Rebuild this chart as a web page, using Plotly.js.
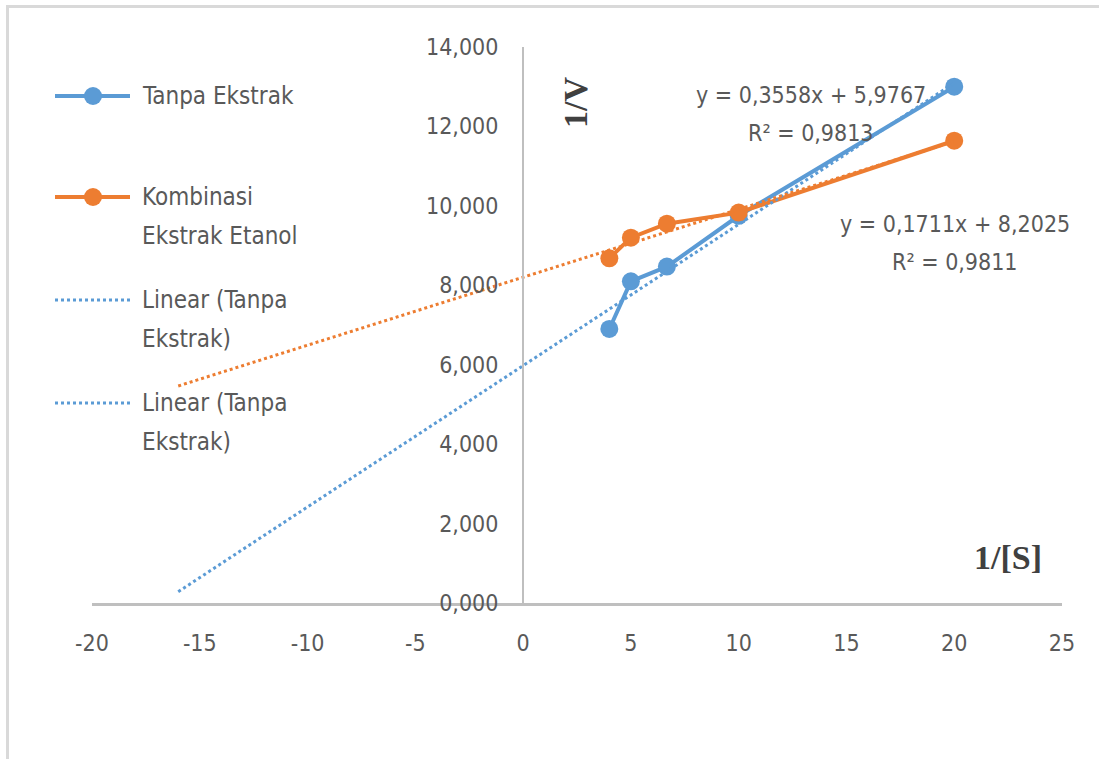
<!DOCTYPE html>
<html>
<head>
<meta charset="utf-8">
<script src="https://cdn.plot.ly/plotly-3.0.1.min.js"></script>
<style>
  html, body { margin: 0; padding: 0; background: #fff; }
  #wrap { position: relative; width: 1099px; height: 759px; overflow: hidden; }
  #chart { position: absolute; left: 0; top: 0; width: 1099px; height: 759px; }
  #frame { position: absolute; left: 6px; top: 5px; right: -10px; bottom: -10px;
           border-left: 3px solid #d9d9d9; border-top: 3px solid #d9d9d9; pointer-events: none; }
</style>
</head>
<body>
<div id="wrap"><div id="chart"></div><div id="frame"></div></div>
<script>
// ---- data ----
const xInvS = [4, 5, 6.67, 10, 20];                 // 1/[S]
const yTanpa = [6.90, 8.10, 8.47, 9.75, 13.00];     // 1/V Tanpa Ekstrak
const yKombinasi = [8.68, 9.20, 9.55, 9.83, 11.64]; // 1/V Kombinasi Ekstrak Etanol
const seriesNames = ['Tanpa Ekstrak', 'Kombinasi Ekstrak Etanol'];
const trendSlopes = [0.3558, 0.1711];
const trendIntercepts = [5.9767, 8.2025];
const trendR2 = [0.9813, 0.9811];
const trendBackward = 20;
const xTickVals = [-20, -15, -10, -5, 0, 5, 10, 15, 20, 25];
const yTickVals = [0, 2, 4, 6, 8, 10, 12, 14];

// ---- style ----
const BLUE = '#5B9BD5', ORANGE = '#ED7D31', TXT = '#595959';
const FONT = '"Liberation Sans Narrow", "DejaVu Sans Condensed", "Open Sans", sans-serif';
const SERIF = '"Liberation Serif", "DejaVu Serif", serif';

const fmt = (v, d) => v.toFixed(d).replace('.', ',');
const xmin = Math.min(...xInvS), xmax = Math.max(...xInvS);
const trendX = [xmin - trendBackward, xmax];

const traces = [];
[yTanpa, yKombinasi].forEach((ys, i) => {
  traces.push({
    x: xInvS, y: ys, type: 'scatter', mode: 'lines+markers', name: seriesNames[i],
    line: {color: i ? ORANGE : BLUE, width: 4},
    marker: {color: i ? ORANGE : BLUE, size: 18},
    showlegend: false, cliponaxis: false
  });
});
[0, 1].forEach(i => {
  traces.push({
    x: trendX, y: trendX.map(v => trendSlopes[i] * v + trendIntercepts[i]),
    type: 'scatter', mode: 'lines', name: 'Linear (' + seriesNames[0] + ')',
    line: {color: i ? ORANGE : BLUE, width: 3, dash: 'dot'},
    showlegend: false
  });
});

// pixel helpers for the custom (Excel-like) legend and labels
const L = 92, R = 1062, T = 47, B = 603;
const px = p => (p - L) / (R - L);
const py = p => (B - p) / (B - T);

const shapes = [];
const annotations = [];
const legendItems = [
  {y: 96, color: BLUE, dot: false, lines: ['Tanpa Ekstrak']},
  {y: 197, color: ORANGE, dot: false, lines: ['Kombinasi', 'Ekstrak Etanol']},
  {y: 300, color: BLUE, dot: true, lines: ['Linear (Tanpa', 'Ekstrak)']},
  {y: 403, color: BLUE, dot: true, lines: ['Linear (Tanpa', 'Ekstrak)']}
];
legendItems.forEach(it => {
  shapes.push({type: 'line', xref: 'paper', yref: 'paper', x0: px(55), x1: px(130), y0: py(it.y), y1: py(it.y),
    line: {color: it.color, width: it.dot ? 3 : 4, dash: it.dot ? 'dot' : 'solid'}});
  if (!it.dot) {
    shapes.push({type: 'circle', xref: 'paper', yref: 'paper', xsizemode: 'pixel', ysizemode: 'pixel',
      xanchor: px(93), yanchor: py(it.y), x0: -9, x1: 9, y0: -9, y1: 9,
      fillcolor: it.color, line: {color: it.color, width: 0}});
  }
  it.lines.forEach((t, k) => {
    annotations.push({xref: 'paper', yref: 'paper', x: px(140), y: py(it.y + k * 39), text: t,
      showarrow: false, xanchor: 'left', yanchor: 'middle', font: {family: FONT, size: 24, color: TXT}});
  });
});

// trendline equations
const eqPos = [{x: 811, y: 95}, {x: 955, y: 224}];
[0, 1].forEach(i => {
  annotations.push({xref: 'paper', yref: 'paper', x: px(eqPos[i].x), y: py(eqPos[i].y),
    text: 'y = ' + fmt(trendSlopes[i], 4) + 'x + ' + fmt(trendIntercepts[i], 4),
    showarrow: false, xanchor: 'center', yanchor: 'middle', font: {family: FONT, size: 23, color: TXT}});
  annotations.push({xref: 'paper', yref: 'paper', x: px(eqPos[i].x), y: py(eqPos[i].y + 38),
    text: 'R² = ' + fmt(trendR2[i], 4),
    showarrow: false, xanchor: 'center', yanchor: 'middle', font: {family: FONT, size: 23, color: TXT}});
});

// axis titles
annotations.push({xref: 'paper', yref: 'paper', x: px(575), y: py(103), text: '<b>1/V</b>', textangle: -90,
  showarrow: false, xanchor: 'center', yanchor: 'middle', font: {family: SERIF, size: 34, color: '#404040'}});
annotations.push({xref: 'paper', yref: 'paper', x: px(1008), y: py(557), text: '<b>1/[S]</b>',
  showarrow: false, xanchor: 'center', yanchor: 'middle', font: {family: SERIF, size: 34, color: '#404040'}});

const layout = {
  width: 1099, height: 759,
  margin: {l: L, r: 1099 - R, t: T, b: 759 - B},
  paper_bgcolor: '#fff', plot_bgcolor: '#fff',
  separators: ',.',
  showlegend: false,
  xaxis: {
    range: [-20, 25], tickvals: xTickVals, ticktext: xTickVals.map(String),
    showgrid: false, zeroline: false, showline: true, linecolor: '#bfbfbf', linewidth: 3,
    ticks: '', ticklabelstandoff: 17,
    tickfont: {family: FONT, size: 23, color: TXT}, fixedrange: true
  },
  yaxis: {
    range: [0, 14], tickvals: yTickVals, ticktext: yTickVals.map(v => fmt(v, 3)),
    anchor: 'free', position: px(523),
    showgrid: false, zeroline: false, showline: true, linecolor: '#bfbfbf', linewidth: 2,
    ticks: '', ticklabelstandoff: 19,
    tickfont: {family: FONT, size: 23, color: TXT}, fixedrange: true
  },
  shapes: shapes,
  annotations: annotations
};

Plotly.newPlot('chart', traces, layout, {displayModeBar: false, staticPlot: true});
</script>
</body>
</html>
